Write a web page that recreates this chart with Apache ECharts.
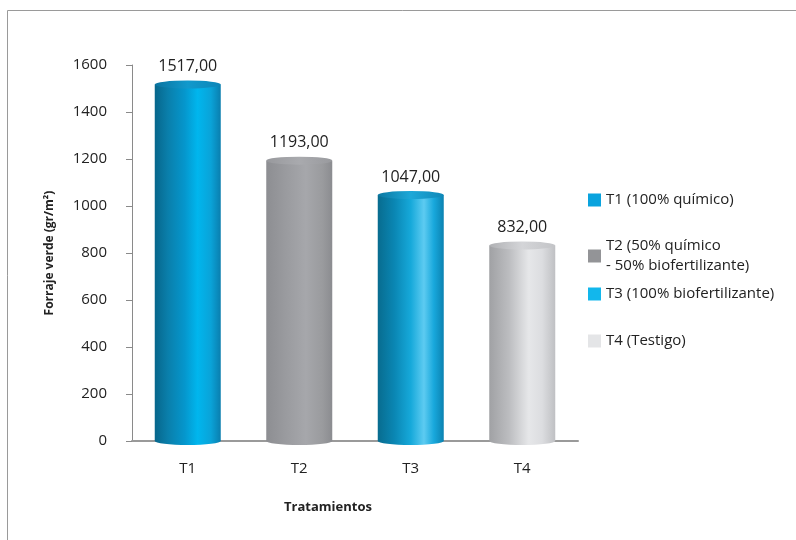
<!DOCTYPE html>
<html>
<head>
<meta charset="utf-8">
<script src="https://cdn.jsdelivr.net/npm/echarts@6/dist/echarts.min.js"></script>
<style>
  html, body { margin: 0; padding: 0; background: #fff; }
  #chart { width: 796px; height: 540px; }
</style>
</head>
<body>
<div id="chart"></div>
<script>
// Forraje verde por tratamiento
const categories = ['T1', 'T2', 'T3', 'T4'];
const seriesNames = [
  'T1 (100% químico)',
  'T2 (50% químico\n- 50% biofertilizante)',
  'T3 (100% biofertilizante)',
  'T4 (Testigo)'
];
const values = [1517, 1193, 1047, 832];
const yTicks = [0, 200, 400, 600, 800, 1000, 1200, 1400, 1600];

const FONT = '"Open Sans", "Noto Sans", sans-serif';

// Cylinder body gradients (dark left edge, highlight, shaded right edge)
function hGrad(stops) {
  return new echarts.graphic.LinearGradient(0, 0, 1, 0,
    stops.map(s => ({ offset: s[0], color: s[1] })));
}
const bodyFills = [
  hGrad([[0, '#07668b'], [0.2, '#0a7fab'], [0.45, '#0596cc'], [0.65, '#00b6ee'], [0.85, '#0aa3d8'], [1, '#0a7eae']]),
  hGrad([[0, '#8d8e92'], [0.3, '#9a9b9f'], [0.6, '#a6a7ab'], [0.85, '#9a9b9e'], [1, '#8b8c90']]),
  hGrad([[0, '#086c8f'], [0.25, '#0a86b3'], [0.5, '#16a9da'], [0.7, '#5dcbf1'], [0.85, '#18a8dc'], [1, '#0b82b1']]),
  hGrad([[0, '#a0a1a4'], [0.3, '#bcbdc0'], [0.6, '#e6e7e9'], [0.8, '#dcdde0'], [1, '#bfc0c3']])
];
const capFills = [
  hGrad([[0, '#0a74a0'], [0.5, '#1199cc'], [1, '#0d86b8']]),
  hGrad([[0, '#98999d'], [0.5, '#a9aaae'], [1, '#999a9e']]),
  hGrad([[0, '#0b78a2'], [0.5, '#1ea8d8'], [1, '#0f88b8']]),
  hGrad([[0, '#b0b1b4'], [0.5, '#d4d5d8'], [1, '#c3c4c7']])
];
const legendColors = ['#0aa3de', '#939497', '#12b7ec', '#e4e5e7'];
const legendTops = [185, 231, 279, 326];

const fmt = v => v.toFixed(2).replace('.', ',');
const BAR_W = 66;

const barSeries = categories.map((c, i) => ({
  name: seriesNames[i],
  type: 'bar',
  stack: 'cyl',
  barWidth: BAR_W,
  data: categories.map((_, j) => (j === i ? values[i] : '-')),
  itemStyle: { color: bodyFills[i] },
  label: {
    show: true,
    position: 'top',
    distance: 10,
    formatter: p => fmt(p.value),
    color: '#222',
    fontFamily: FONT,
    fontSize: 16
  },
  z: 2
}));

const chart = echarts.init(document.getElementById('chart'), null, { renderer: 'canvas' });
chart.setOption({
  backgroundColor: '#fff',
  animation: false,
  grid: { left: 132, right: 218, top: 65, bottom: 99 },
  legend: seriesNames.map((n, i) => ({
    data: [{ name: n, itemStyle: { color: legendColors[i] } }],
    left: 583,
    top: legendTops[i],
    orient: 'vertical',
    itemWidth: 13,
    itemHeight: 13,
    icon: 'rect',
    itemGap: 8,
    selectedMode: false,
    textStyle: { fontFamily: FONT, fontSize: 15, color: '#222', lineHeight: 20 }
  })),
  xAxis: {
    type: 'category',
    data: categories,
    name: 'Tratamientos',
    nameLocation: 'middle',
    nameGap: 60,
    nameTextStyle: { fontFamily: FONT, fontSize: 13, fontWeight: 'bold', color: '#222', padding: [0, 54, 0, 0] },
    axisLine: { lineStyle: { color: '#9a9a9a', width: 2 } },
    axisTick: { show: false },
    axisLabel: { margin: 20, fontFamily: FONT, fontSize: 15, color: '#222' }
  },
  yAxis: {
    type: 'value',
    min: 0,
    max: 1600,
    interval: 200,
    name: 'Forraje verde (gr/m²)',
    nameLocation: 'middle',
    nameGap: 76,
    nameRotate: 90,
    nameTextStyle: { fontFamily: FONT, fontSize: 12, fontWeight: 'bold', color: '#222' },
    axisLine: { show: true, lineStyle: { color: '#8a8a8a', width: 1 } },
    axisTick: { show: true, length: 6, lineStyle: { color: '#8a8a8a' } },
    splitLine: { show: false },
    axisLabel: {
      margin: 25,
      fontFamily: FONT,
      fontSize: 15,
      color: '#222',
      formatter: v => (yTicks.includes(v) ? String(v) : '')
    }
  },
  series: [
    ...barSeries,
    {
      // bottom ellipse of each cylinder
      type: 'pictorialBar',
      symbol: 'circle',
      symbolSize: [BAR_W, 8],
      symbolPosition: 'start',
      symbolOffset: [0, '50%'],
      data: values.map((v, i) => ({ value: v, itemStyle: { color: bodyFills[i] } })),
      z: 1,
      silent: true
    },
    {
      // top ellipse of each cylinder
      type: 'pictorialBar',
      symbol: 'circle',
      symbolSize: [BAR_W, 8],
      symbolPosition: 'end',
      symbolOffset: [0, '-50%'],
      data: values.map((v, i) => ({ value: v, itemStyle: { color: capFills[i] } })),
      z: 3,
      silent: true
    }
  ],
  graphic: [
    {
      type: 'polyline',
      shape: { points: [[7.5, 545], [7.5, 10.5], [800, 10.5]] },
      style: { stroke: '#9a9a9a', lineWidth: 1, fill: null },
      silent: true
    }
  ]
});
</script>
</body>
</html>
